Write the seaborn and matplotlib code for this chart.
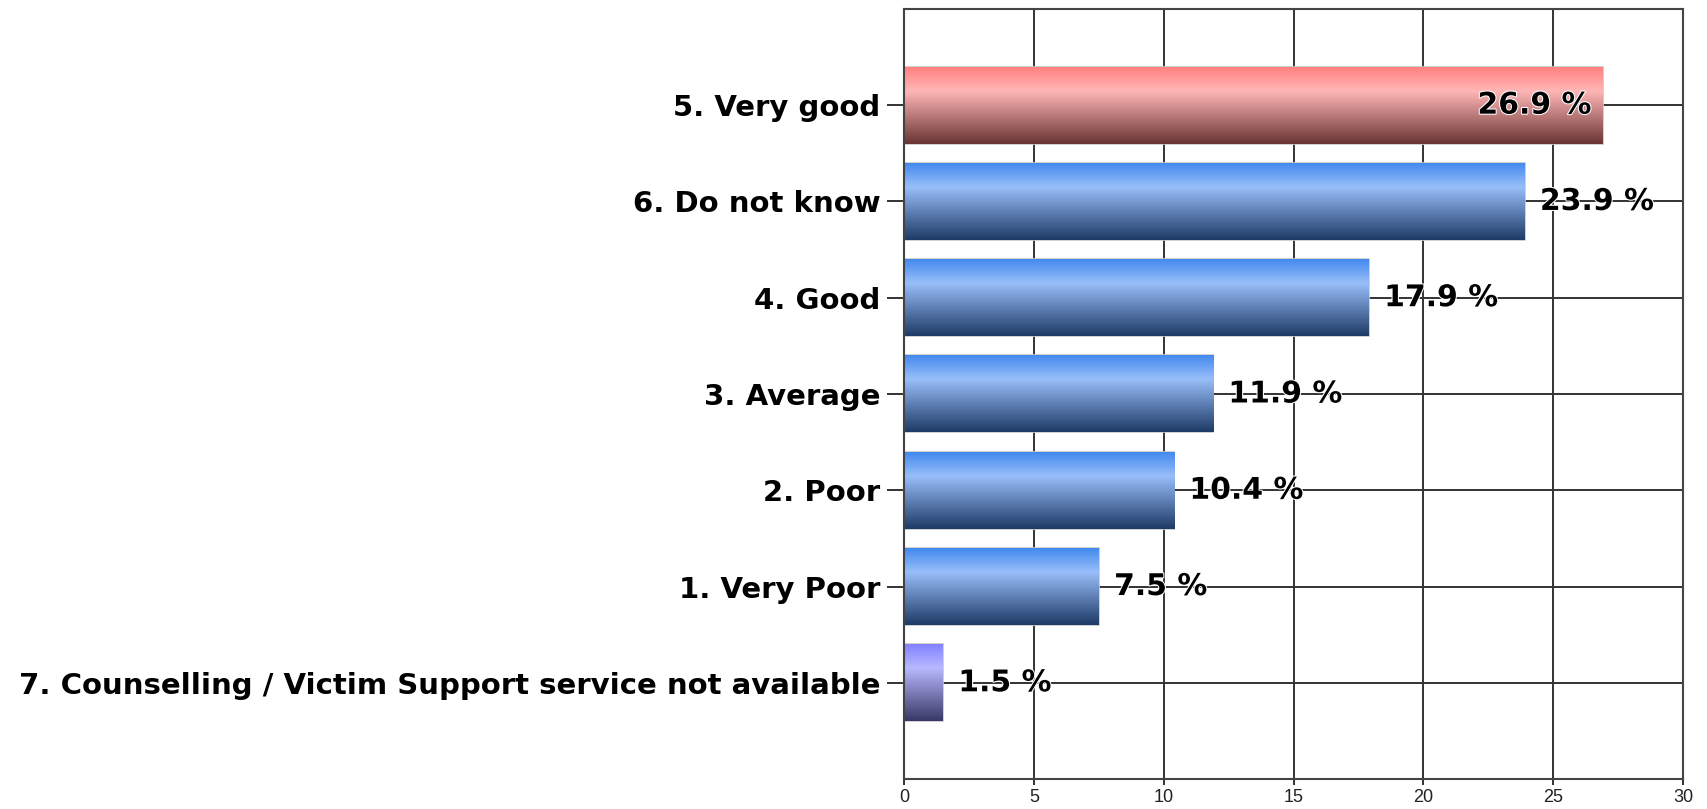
import numpy as np
import pandas as pd
import matplotlib.pyplot as plt
import matplotlib.patheffects as pe
from matplotlib.colors import LinearSegmentedColormap
import seaborn as sns

categories = [
    "5. Very good",
    "6. Do not know",
    "4. Good",
    "3. Average",
    "2. Poor",
    "1. Very Poor",
    "7. Counselling / Victim Support service not available",
]
percent = [26.9, 23.9, 17.9, 11.9, 10.4, 7.5, 1.5]
x_ticks = [0, 5, 10, 15, 20, 25, 30]

# gradient stops per bar: top, highlight, bottom
red_stops = ["#ff7e7e", "#ffb6b6", "#6a3434"]
blue_stops = ["#3f88ee", "#98befa", "#1e3a66"]
purple_stops = ["#8080ff", "#b8b8ff", "#383866"]
bar_stops = [red_stops] + [blue_stops] * 5 + [purple_stops]

df = pd.DataFrame({"category": categories, "percent": percent})

sns.set_theme(style="white")
plt.rcParams["font.family"] = ["Liberation Sans", "DejaVu Sans"]
label_font = ["DejaVu Sans"]

fig = plt.figure(figsize=(17.08, 8.09), dpi=100)
ax = fig.add_axes([0.5293, 0.037, 0.4561, 0.952])

sns.barplot(data=df, y="category", x="percent", hue="category", order=categories,
            palette=[s[1] for s in bar_stops], legend=False, width=0.8, orient="h",
            edgecolor="#c8c8c8", linewidth=1.2, ax=ax, zorder=2)

# paint a vertical gradient into each bar
for patch, stops in zip(ax.patches, bar_stops):
    x0, y0 = patch.get_x(), patch.get_y()
    w, h = patch.get_width(), patch.get_height()
    cmap = LinearSegmentedColormap.from_list("g", [(0, stops[0]), (0.32, stops[1]), (1, stops[2])])
    grad = np.linspace(0, 1, 256).reshape(-1, 1)
    im = ax.imshow(grad, cmap=cmap, aspect="auto", extent=(x0, x0 + w, y0 + h, y0),
                   origin="upper", zorder=2.5, interpolation="bilinear")
    im.set_clip_path(patch)

ax.set_xlim(0, 30)
ax.set_ylim(len(categories), -1)
ax.set_xticks(x_ticks)
ax.set_xticklabels([str(t) for t in x_ticks])
ax.set_xlabel("")
ax.set_ylabel("")

ax.grid(True, color="#333333", linewidth=1.4, zorder=0)
ax.set_axisbelow(True)
for s in ax.spines.values():
    s.set_visible(True)
    s.set_color("#444444")
    s.set_linewidth(1.5)

ax.tick_params(axis="y", left=True, length=12, width=1.4, color="#333333", pad=5)
ax.tick_params(axis="x", bottom=True, length=4, width=1.4, color="#333333", pad=3.5,
               labelsize=13, labelcolor="#222222")
for lbl in ax.get_yticklabels():
    lbl.set_fontweight("bold")
    lbl.set_color("black")
    lbl.set_fontsize(21)
    lbl.set_family(label_font)

halo = [pe.withStroke(linewidth=1.5, foreground="white")]
for i, v in enumerate(percent):
    inside = v > 26
    ax.annotate(f"{v} %", (v, i), xytext=(-8, 0) if inside else (11, 0),
                textcoords="offset points", ha="right" if inside else "left",
                va="center", fontsize=21.5, fontweight="bold", family=label_font,
                color="black", zorder=5, path_effects=halo)

fig.savefig("out.png", dpi=100)
